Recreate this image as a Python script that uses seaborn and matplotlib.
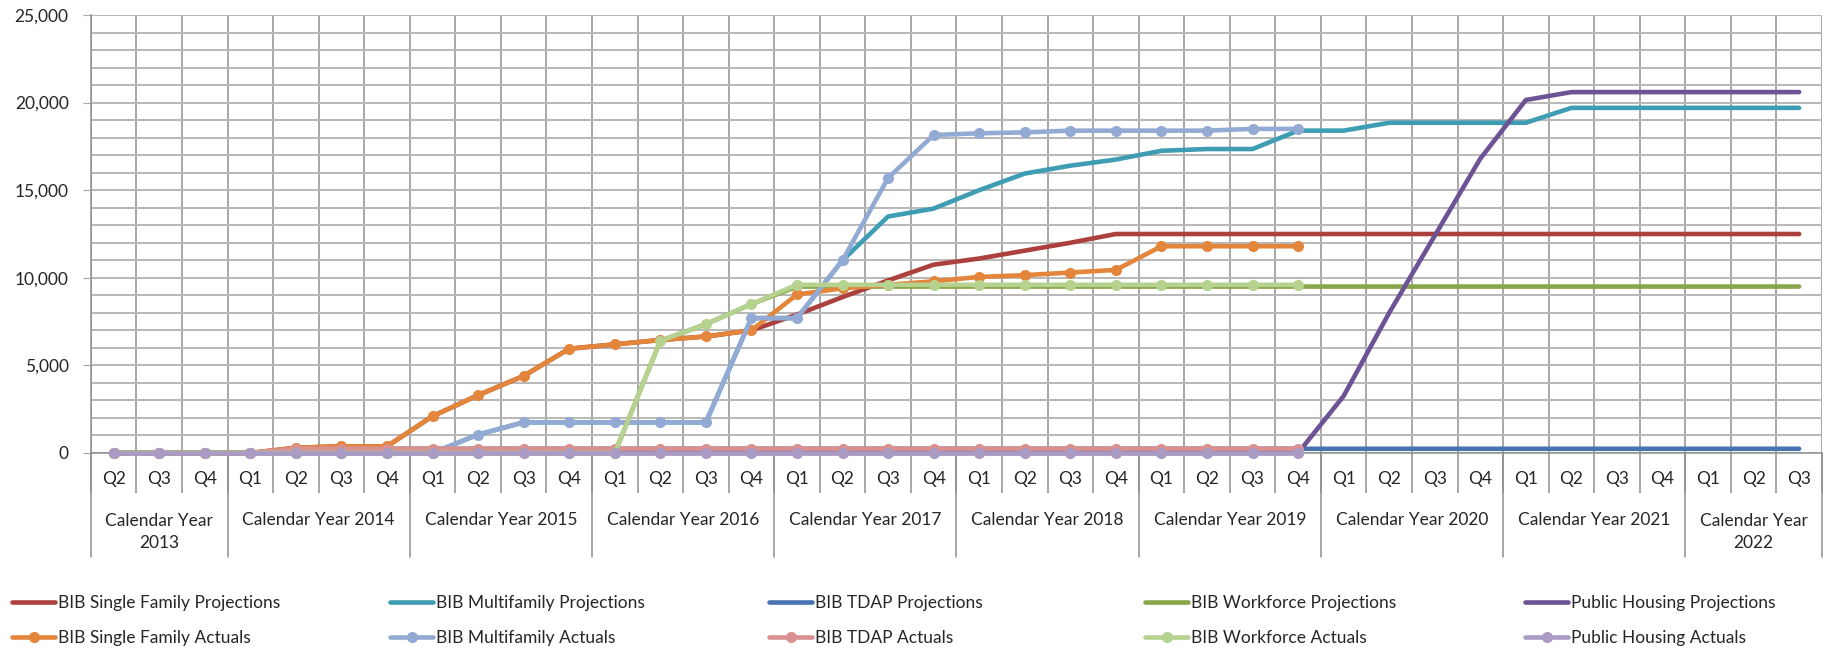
import numpy as np
import pandas as pd
import matplotlib
matplotlib.use('Agg')
import matplotlib.pyplot as plt
import seaborn as sns

# quarters on the x axis, 2013 Q2 .. 2022 Q3
quarter_labels = ['Q2', 'Q3', 'Q4',
                  'Q1', 'Q2', 'Q3', 'Q4', 'Q1', 'Q2', 'Q3', 'Q4',
                  'Q1', 'Q2', 'Q3', 'Q4', 'Q1', 'Q2', 'Q3', 'Q4',
                  'Q1', 'Q2', 'Q3', 'Q4', 'Q1', 'Q2', 'Q3', 'Q4',
                  'Q1', 'Q2', 'Q3', 'Q4', 'Q1', 'Q2', 'Q3', 'Q4',
                  'Q1', 'Q2', 'Q3']
year_labels = ['Calendar Year 2013', 'Calendar Year 2014', 'Calendar Year 2015',
               'Calendar Year 2016', 'Calendar Year 2017', 'Calendar Year 2018',
               'Calendar Year 2019', 'Calendar Year 2020', 'Calendar Year 2021',
               'Calendar Year 2022']
year_spans = [3, 4, 4, 4, 4, 4, 4, 4, 4, 3]

# projections (38 quarters)
sf_proj = [0, 0, 0, 0, 300, 380, 380, 2100, 3300, 4400, 5950, 6200, 6450, 6650,
           7000, 7900, 8900, 9850, 10750, 11100, 11550, 12000, 12500, 12500,
           12500, 12500, 12500, 12500, 12500, 12500, 12500, 12500, 12500, 12500,
           12500, 12500, 12500, 12500]
mf_proj = [0, 0, 0, 0, 0, 0, 0, 0, 1050, 1750, 1750, 1750, 1750, 1750, 7700,
           7700, 11000, 13500, 13950, 15000, 15950, 16400, 16750, 17250, 17350,
           17350, 18400, 18400, 18850, 18850, 18850, 18850, 19700, 19700, 19700,
           19700, 19700, 19700]
tdap_proj = [0, 0, 0, 0] + [240] * 34
wf_proj = [0] * 12 + [6400, 7350, 8500] + [9500] * 23
ph_proj = [0] * 27 + [3250, 8000, 12400, 16800, 20150, 20600, 20600, 20600,
                      20600, 20600, 20600]

# actuals (27 quarters, through 2019 Q4)
sf_act = [0, 0, 0, 0, 300, 380, 380, 2100, 3300, 4400, 5950, 6200, 6450, 6650,
          7000, 9050, 9400, 9600, 9800, 10050, 10150, 10300, 10450, 11800,
          11800, 11800, 11800]
mf_act = [0, 0, 0, 0, 0, 0, 0, 0, 1050, 1750, 1750, 1750, 1750, 1750, 7700,
          7700, 11000, 15700, 18150, 18250, 18300, 18400, 18400, 18400, 18400,
          18500, 18500]
tdap_act = [0, 0, 0, 0] + [250] * 23
wf_act = [0] * 12 + [6400, 7350, 8500] + [9600] * 12
ph_act = [0] * 27

proj_names = ['BIB Single Family Projections', 'BIB Multifamily Projections',
              'BIB TDAP Projections', 'BIB Workforce Projections',
              'Public Housing Projections']
act_names = ['BIB Single Family Actuals', 'BIB Multifamily Actuals',
             'BIB TDAP Actuals', 'BIB Workforce Actuals', 'Public Housing Actuals']
proj_vals = [sf_proj, mf_proj, tdap_proj, wf_proj, ph_proj]
act_vals = [sf_act, mf_act, tdap_act, wf_act, ph_act]
proj_colors = ['#AC403D', '#3E9DB3', '#4873B2', '#87A64A', '#6C5396']
act_colors = ['#E3853A', '#93AAD4', '#D8918F', '#B6D28F', '#A99BC4']

sns.set_style('white')
plt.rcParams['font.family'] = ['Lato', 'DejaVu Sans']
plt.rcParams['font.size'] = 12

fig = plt.figure(figsize=(18.37, 6.5), dpi=100)
ax = fig.add_axes([0.0495, 0.3031, 0.9423, 0.6738])

for name, vals, col in zip(proj_names, proj_vals, proj_colors):
    df = pd.DataFrame({'q': np.arange(len(vals)), 'v': vals})
    sns.lineplot(data=df, x='q', y='v', color=col, lw=3.3, ax=ax,
                 label=name, clip_on=False, zorder=3)
for name, vals, col in zip(act_names, act_vals, act_colors):
    df = pd.DataFrame({'q': np.arange(len(vals)), 'v': vals})
    sns.lineplot(data=df, x='q', y='v', color=col, lw=3.3, marker='o',
                 markersize=8, markeredgewidth=0, ax=ax, label=name,
                 clip_on=False, zorder=4)

h, l = ax.get_legend_handles_labels()
ax.get_legend().remove()
lookup = dict(zip(l, h))

n = len(quarter_labels)
ax.set_xlim(-0.5, n - 0.5)
ax.set_ylim(0, 25000)
ax.set_xlabel('')
ax.set_ylabel('')

grid_col = '#A6A6A6'
ax.set_yticks(np.arange(0, 25001, 5000))
ax.set_yticklabels([f'{v:,}' for v in range(0, 25001, 5000)], fontsize=12.5)
ax.set_yticks(np.arange(0, 25001, 1000), minor=True)
ax.set_xticks(np.arange(n))
ax.set_xticklabels(quarter_labels, fontsize=12.5)
ax.set_xticks(np.arange(n + 1) - 0.5, minor=True)
ax.grid(axis='y', which='both', color='#B8B8B8', lw=1.4, zorder=0)
ax.grid(axis='x', which='minor', color='#8F8F8F', lw=1.1, zorder=0)
ax.grid(axis='x', which='major', visible=False)
ax.tick_params(axis='y', which='major', length=6, color=grid_col, pad=10,
               left=True)
ax.tick_params(axis='y', which='minor', length=0)
ax.tick_params(axis='x', which='major', length=0, pad=13)
ax.tick_params(axis='x', which='minor', length=29, width=1.1, color='#8F8F8F',
               direction='out', bottom=True)
for s in ['top', 'right']:
    ax.spines[s].set_visible(False)
for s in ['left', 'bottom']:
    ax.spines[s].set_color('#8F8F8F')
    ax.spines[s].set_linewidth(1.1)

# year group labels and separators
trans = ax.get_xaxis_transform()
start = -0.5
for lab, span in zip(year_labels, year_spans):
    ax.plot([start, start], [0, -0.2374], transform=trans, color='#8F8F8F',
            lw=1.1, clip_on=False)
    mid = start + span / 2
    if span < 4:
        txt = lab.rsplit(' ', 1)
        ax.text(mid, -0.181, txt[0] + '\n' + txt[1], transform=trans,
                ha='center', va='center', fontsize=12.5, linespacing=1.45)
    else:
        ax.text(mid, -0.153, lab, transform=trans, ha='center', va='center',
                fontsize=12.5)
    start += span
ax.plot([start, start], [0, -0.2374], transform=trans, color='#8F8F8F',
        lw=1.1, clip_on=False)

# legend: five columns, projections on top row, actuals below
col_x = [0.0065, 0.2123, 0.4186, 0.6233, 0.8302]
for x, pn, an in zip(col_x, proj_names, act_names):
    fig.legend([lookup[pn], lookup[an]], [pn, an], loc='upper left',
               bbox_to_anchor=(x, 0.085), frameon=False, fontsize=12.5,
               handlelength=2.5, handletextpad=0.15, labelspacing=1.1,
               borderpad=0, borderaxespad=0)

fig.savefig('out.png', dpi=100)
